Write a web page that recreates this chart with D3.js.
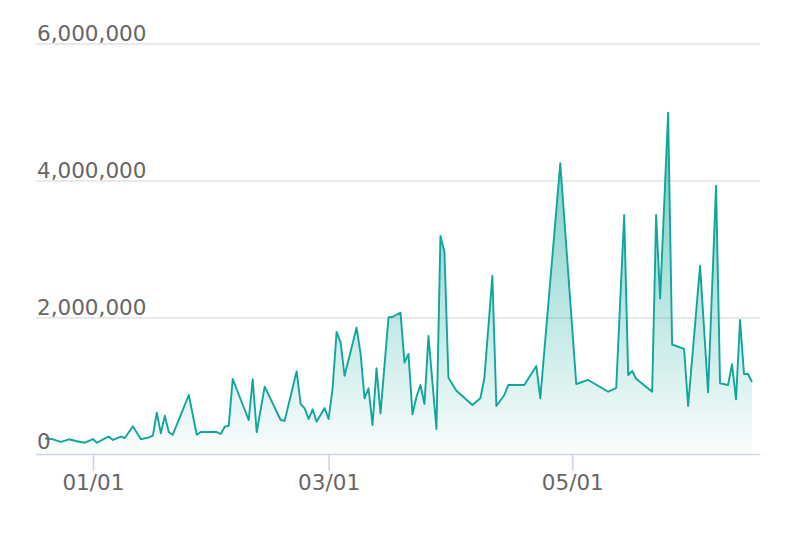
<!DOCTYPE html>
<meta charset="utf-8">
<style>
body { margin: 0; background: #fff; }
svg { display: block; font-family: "DejaVu Sans", Verdana, sans-serif; }
</style>
<svg width="794" height="536"></svg>
<script src="https://cdn.jsdelivr.net/npm/d3@7"></script>
<script>
// daily totals
var dates = [
  "2021-12-20","2021-12-22","2021-12-24","2021-12-26","2021-12-28","2021-12-30",
  "2022-01-01","2022-01-02","2022-01-04","2022-01-05","2022-01-06","2022-01-08","2022-01-09",
  "2022-01-11","2022-01-13","2022-01-15","2022-01-16","2022-01-17","2022-01-18","2022-01-19",
  "2022-01-20","2022-01-21","2022-01-25","2022-01-27","2022-01-28",
  "2022-02-01","2022-02-02","2022-02-03","2022-02-04","2022-02-05","2022-02-09","2022-02-10",
  "2022-02-11","2022-02-13","2022-02-17","2022-02-18","2022-02-21","2022-02-22","2022-02-23",
  "2022-02-24","2022-02-25","2022-02-26","2022-02-28",
  "2022-03-01","2022-03-02","2022-03-03","2022-03-04","2022-03-05","2022-03-08","2022-03-09",
  "2022-03-10","2022-03-11","2022-03-12","2022-03-13","2022-03-14","2022-03-16","2022-03-17",
  "2022-03-19","2022-03-20","2022-03-21","2022-03-22","2022-03-23","2022-03-24","2022-03-25",
  "2022-03-26","2022-03-28","2022-03-29","2022-03-30","2022-03-31",
  "2022-04-02","2022-04-06","2022-04-08","2022-04-09","2022-04-11","2022-04-12","2022-04-14",
  "2022-04-15","2022-04-19","2022-04-22","2022-04-23","2022-04-28",
  "2022-05-02","2022-05-05","2022-05-10","2022-05-12","2022-05-14","2022-05-15","2022-05-16",
  "2022-05-17","2022-05-21","2022-05-22","2022-05-23","2022-05-25","2022-05-26","2022-05-29",
  "2022-05-30","2022-06-02","2022-06-04","2022-06-06","2022-06-07","2022-06-09","2022-06-10",
  "2022-06-11","2022-06-12","2022-06-13","2022-06-14","2022-06-15"
]
var values = [
  243000, 229000, 190000, 229000, 200000, 179000,
  233000, 179000, 243000, 267000, 219000, 267000, 248000,
  418000, 229000, 258000, 281000, 617000, 316000, 573000,
  331000, 296000, 875000, 296000, 335000,
  335000, 306000, 413000, 427000, 1108000, 510000, 1104000,
  331000, 996000, 510000, 500000, 1220000, 744000, 681000,
  525000, 666000, 486000, 685000,
  525000, 973000, 1794000, 1643000, 1156000, 1856000, 1483000,
  827000, 973000, 437000, 1264000, 608000, 2008000, 2012000,
  2075000, 1346000, 1473000, 593000, 850000, 1021000, 744000,
  1735000, 379000, 3193000, 2964000, 1127000,
  938000, 729000, 827000, 1123000, 2610000, 714000, 875000,
  1021000, 1021000, 1298000, 827000, 4253000,
  1035000, 1094000, 923000, 977000, 3500000, 1167000, 1225000,
  1111000, 923000, 3500000, 2282000, 4991000, 1611000, 1546000,
  714000, 2760000, 914000, 3927000, 1045000, 1021000, 1323000,
  812000, 1969000, 1181000, 1181000, 1065000
]
var yTicks = [0, 2000000, 4000000, 6000000]
var xTicks = ["2022-01-01", "2022-03-01", "2022-05-01"]

var parse = d3.timeParse("%Y-%m-%d")
var data = dates.map(function(d, i){ return {date: parse(d), value: values[i]} })

var svg = d3.select("svg")
var plotLeft = 37, plotRight = 760, plotTop = 43.5, plotBottom = 455

var x = d3.scaleTime()
  .domain([parse("2021-12-18"), parse("2022-06-17")])
  .range([plotLeft, plotRight])
var y = d3.scaleLinear()
  .domain([0, 6000000])
  .range([plotBottom, plotTop])

var grad = svg.append("defs").append("linearGradient")
  .attr("id", "fillGrad")
  .attr("x1", 0).attr("y1", 0).attr("x2", 0).attr("y2", 1)
grad.append("stop").attr("offset", "0%").attr("stop-color", "#0fa69b").attr("stop-opacity", 0.62)
grad.append("stop").attr("offset", "100%").attr("stop-color", "#0fa69b").attr("stop-opacity", 0.02)

// grid lines
svg.append("g")
  .selectAll("line")
  .data(yTicks.filter(function(t){ return t > 0 }))
  .enter().append("line")
    .attr("x1", plotLeft - 1).attr("x2", plotRight)
    .attr("y1", function(d){ return Math.round(y(d)) })
    .attr("y2", function(d){ return Math.round(y(d)) })
    .attr("stroke", "#e2e2e2")
    .attr("stroke-width", 1.6)

var area = d3.area()
  .x(function(d){ return x(d.date) })
  .y0(y(0))
  .y1(function(d){ return y(d.value) })
var line = d3.line()
  .x(function(d){ return x(d.date) })
  .y(function(d){ return y(d.value) })

svg.append("path")
  .datum(data)
  .attr("d", area)
  .attr("fill", "url(#fillGrad)")

svg.append("path")
  .datum(data)
  .attr("d", line)
  .attr("fill", "none")
  .attr("stroke", "#0fa69b")
  .attr("stroke-width", 1.9)
  .attr("stroke-linejoin", "round")

// x axis
var xAxis = d3.axisBottom(x)
  .tickValues(xTicks.map(parse))
  .tickFormat(d3.timeFormat("%m/%d"))
  .tickSize(17)
  .tickPadding(4)
  .tickSizeOuter(0)

var gx = svg.append("g")
  .attr("transform", "translate(0," + (plotBottom - 1) + ")")
  .call(xAxis)
gx.select(".domain").attr("stroke", "#ccd6eb").attr("stroke-width", 1.6)
  .attr("d", "M" + (plotLeft - 1) + ",0.5H" + plotRight)
gx.selectAll(".tick line").attr("stroke", "#ccd6eb").attr("stroke-width", 1.6)
gx.selectAll(".tick text")
  .attr("fill", "#666666")
  .attr("font-size", "21.5px")
  .attr("font-family", "DejaVu Sans, Verdana, sans-serif")

// y labels sit above their grid lines
svg.append("g")
  .selectAll("text")
  .data(yTicks)
  .enter().append("text")
    .attr("x", plotLeft)
    .attr("y", function(d){ return y(d) - (d === 0 ? 6 : 2.5) })
    .attr("fill", "#666666")
    .attr("font-size", "21.5px")
    .text(function(d){ return d3.format(",")(d) })
</script>
